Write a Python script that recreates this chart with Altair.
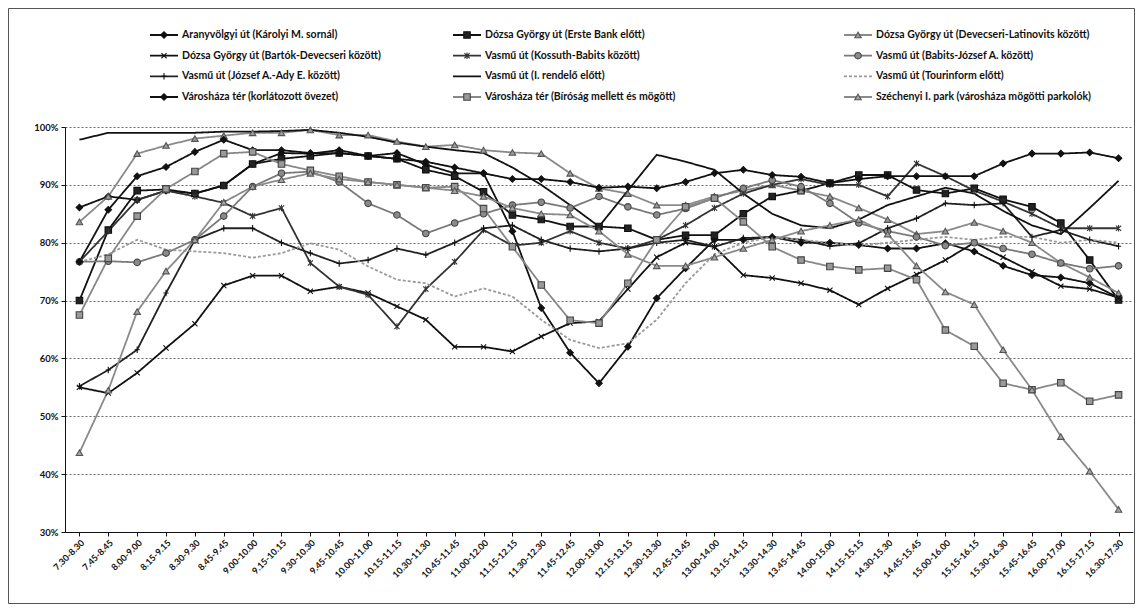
import altair as alt
import pandas as pd

categories = ["7.30-8.30", "7.45-8.45", "8.00-9.00", "8.15-9.15", "8.30-9.30", "8.45-9.45",
              "9.00-10.00", "9.15-10.15", "9.30-10.30", "9.45-10.45", "10.00-11.00", "10.15-11.15",
              "10.30-11.30", "10.45-11.45", "11.00-12.00", "11.15-12.15", "11.30-12.30", "11.45-12.45",
              "12.00-13.00", "12.15-13.15", "12.30-13.30", "12.45-13.45", "13.00-14.00", "13.15-14.15",
              "13.30-14.30", "13.45-14.45", "14.00-15.00", "14.15-15.15", "14.30-15.30", "14.45-15.45",
              "15.00-16.00", "15.15-16.15", "15.30-16.30", "15.45-16.45", "16.00-17.00", "16.15-17.15",
              "16.30-17.30"]

series_names = [
    "Aranyvölgyi út (Károlyi M. sornál)",
    "Dózsa György út (Erste Bank előtt)",
    "Dózsa György út (Devecseri-Latinovits között)",
    "Dózsa György út (Bartók-Devecseri között)",
    "Vasmű út (Kossuth-Babits között)",
    "Vasmű út (Babits-József A. között)",
    "Vasmű út (József A.-Ady E. között)",
    "Vasmű út (I. rendelő előtt)",
    "Vasmű út (Tourinform előtt)",
    "Városháza tér (korlátozott övezet)",
    "Városháza tér (Bíróság mellett és mögött)",
    "Széchenyi I. park (városháza mögötti parkolók)",
]

aranyvolgyi = [86.1, 88.0, 87.4, 89.0, 88.5, 89.9, 93.6, 95.5, 95.4, 96.0, 95.0, 95.5, 93.5, 92.0, 92.0, 82.0,
               68.7, 61.0, 55.7, 62.0, 70.4, 75.6, 80.5, 80.5, 81.0, 80.0, 80.0, 79.6, 79.0, 79.0, 79.9, 78.5,
               76.0, 74.4, 74.0, 73.0, 70.5]
erste_bank = [70.0, 82.2, 89.0, 89.2, 88.5, 89.9, 93.6, 94.5, 95.0, 95.5, 95.0, 94.5, 92.6, 91.5, 88.8, 84.8,
              84.0, 82.8, 82.8, 82.5, 80.5, 81.3, 81.3, 85.0, 88.0, 89.0, 90.3, 91.7, 91.7, 89.1, 88.5, 89.4,
              87.5, 86.2, 83.4, 77.0, 70.1]
devecseri_latinovits = [83.6, 88.0, 95.4, 96.8, 98.0, 98.5, 99.0, 99.0, 99.5, 98.6, 98.6, 97.5, 96.6, 96.9, 96.0,
                        95.6, 95.4, 92.0, 89.4, 88.5, 86.5, 86.5, 88.0, 89.0, 90.0, 89.0, 88.0, 86.0, 84.0, 81.5,
                        82.0, 83.5, 82.0, 80.0, 76.5, 74.0, 71.3]
bartok_devecseri = [55.0, 54.0, 57.5, 61.8, 66.0, 72.6, 74.3, 74.3, 71.6, 72.4, 71.3, 69.0, 66.7, 62.0, 62.0, 61.2,
                    63.8, 66.1, 66.4, 72.0, 77.5, 80.0, 79.3, 74.4, 73.9, 73.0, 71.8, 69.3, 72.1, 74.5, 77.0, 80.0,
                    77.5, 75.0, 72.5, 72.0, 70.5]
kossuth_babits = [76.7, 82.0, 87.4, 89.0, 88.0, 86.9, 84.6, 86.0, 76.5, 72.4, 71.0, 65.5, 72.0, 76.7, 82.2, 79.5,
                  80.0, 82.0, 80.0, 79.0, 80.5, 83.0, 86.0, 88.5, 90.0, 91.0, 90.0, 90.0, 88.0, 93.7, 91.5, 89.0,
                  87.1, 85.0, 82.5, 82.5, 82.5]
babits_jozsef = [76.7, 76.8, 76.6, 78.2, 80.5, 84.6, 89.7, 92.0, 92.3, 90.5, 86.8, 84.8, 81.6, 83.4, 85.0, 86.5,
                 87.0, 86.0, 88.0, 86.2, 84.8, 85.9, 87.7, 89.4, 90.8, 89.7, 86.8, 83.4, 82.0, 81.0, 79.5, 80.0,
                 79.0, 78.0, 76.5, 75.5, 76.0]
jozsef_ady = [55.2, 58.0, 61.5, 71.3, 80.5, 82.5, 82.5, 80.0, 78.2, 76.4, 77.0, 79.0, 77.9, 80.0, 82.5, 83.0,
              80.5, 79.0, 78.5, 79.0, 80.0, 80.5, 79.3, 80.8, 81.0, 80.5, 79.4, 79.9, 82.5, 84.2, 86.8, 86.5,
              86.8, 81.0, 82.2, 80.5, 79.4]
rendelo = [97.8, 99.0, 99.0, 99.0, 99.0, 99.2, 99.2, 99.3, 99.5, 99.0, 98.3, 97.3, 96.6, 96.0, 95.5, 93.0,
           90.0, 86.5, 82.8, 89.0, 95.2, 94.0, 92.6, 88.5, 85.0, 83.0, 82.5, 84.0, 86.5, 88.0, 89.5, 88.5,
           85.5, 83.0, 81.5, 86.0, 90.7]
tourinform = [76.7, 78.0, 80.5, 78.8, 78.5, 78.2, 77.4, 78.2, 79.9, 78.8, 75.9, 73.6, 73.0, 70.7, 72.1, 70.7,
              66.7, 63.2, 61.8, 62.6, 66.7, 73.0, 78.0, 80.0, 81.0, 80.5, 80.0, 79.5, 80.0, 80.5, 81.0, 80.5,
              81.0, 81.0, 80.0, 80.5, 80.0]
korlatozott = [76.7, 85.7, 91.5, 93.1, 95.7, 97.8, 96.0, 96.0, 95.5, 95.5, 95.0, 94.5, 94.0, 93.0, 92.0, 91.0,
               91.0, 90.5, 89.5, 89.7, 89.4, 90.5, 92.0, 92.6, 91.7, 91.4, 90.3, 91.0, 91.5, 91.5, 91.5, 91.5,
               93.7, 95.4, 95.4, 95.6, 94.6]
birosag = [67.5, 77.3, 84.6, 89.3, 92.3, 95.4, 95.7, 93.6, 92.5, 91.5, 90.5, 90.0, 89.5, 89.7, 85.9, 79.3,
           72.7, 66.6, 66.1, 73.0, 80.5, 86.2, 87.7, 83.6, 79.3, 77.0, 75.9, 75.3, 75.6, 73.6, 64.9, 62.1,
           55.7, 54.6, 55.8, 52.6, 53.7]
szechenyi = [43.7, 54.5, 68.1, 75.1, 80.5, 87.0, 89.7, 90.9, 92.0, 91.0, 90.5, 90.0, 89.5, 89.0, 88.0, 86.0,
             85.0, 84.8, 82.0, 78.0, 76.0, 76.0, 77.5, 79.0, 80.5, 82.0, 83.0, 84.0, 81.5, 76.0, 71.5, 69.3,
             61.5, 54.6, 46.5, 40.5, 33.9]

y_ticks = [30, 40, 50, 60, 70, 80, 90, 100]

all_values = [aranyvolgyi, erste_bank, devecseri_latinovits, bartok_devecseri, kossuth_babits, babits_jozsef,
              jozsef_ady, rendelo, tourinform, korlatozott, birosag, szechenyi]

# ---- styles ----
X_PATH = "M-0.8,-0.8L0.8,0.8M-0.8,0.8L0.8,-0.8"
AST_PATH = "M-0.8,-0.8L0.8,0.8M-0.8,0.8L0.8,-0.8M0,-1L0,1"
PLUS_PATH = "M0,-1L0,1M-0.8,0L0.8,0"
line_colors = ["#111", "#111", "#8a8a8a", "#111", "#333", "#7a7a7a", "#222", "#111", "#9a9a9a", "#111", "#888", "#8a8a8a"]
line_widths = [1.8, 1.8, 1.4, 1.6, 1.4, 1.4, 1.2, 1.8, 1.0, 1.8, 1.4, 1.2]
line_dashes = [[1, 0]] * 8 + [[3, 2]] + [[1, 0]] * 3
marker_idx = [0, 1, 2, 3, 4, 5, 6, 9, 10, 11]
marker_shapes = ["diamond", "square", "triangle-up", X_PATH, AST_PATH, "circle", PLUS_PATH, "diamond", "square", "triangle-up"]
marker_fills = ["#111", "#222", "#9a9a9a", "#111", "#333", "#8a8a8a", "#111", "#111", "#999", "#a5a5a5"]
marker_strokes = ["#111", "#111", "#555", "#111", "#333", "#444", "#111", "#111", "#444", "#555"]
marker_series = [series_names[i] for i in marker_idx]

rows = []
for name, vals in zip(series_names, all_values):
    for cat, v in zip(categories, vals):
        rows.append({"series": name, "cat": cat, "v": v})
df = pd.DataFrame(rows)

legend_df = pd.DataFrame({
    "series": series_names,
    "col": [i % 3 for i in range(len(series_names))],
    "row": [i // 3 for i in range(len(series_names))],
})

FONT = "Lato"

color_enc = alt.Color("series:N", scale=alt.Scale(domain=series_names, range=line_colors), legend=None)
dash_enc = alt.StrokeDash("series:N", scale=alt.Scale(domain=series_names, range=line_dashes), legend=None)
width_enc = alt.StrokeWidth("series:N", scale=alt.Scale(domain=series_names, range=line_widths), legend=None)
shape_enc = alt.Shape("series:N", scale=alt.Scale(domain=marker_series, range=marker_shapes), legend=None)
fill_enc = alt.Fill("series:N", scale=alt.Scale(domain=marker_series, range=marker_fills), legend=None)
stroke_enc = alt.Stroke("series:N", scale=alt.Scale(domain=marker_series, range=marker_strokes), legend=None)

x_enc = alt.X("cat:N", sort=categories, scale=alt.Scale(type="point", padding=0.5),
              axis=alt.Axis(title=None, labelAngle=-45, labelFont=FONT, labelFontSize=9,
                            labelFontWeight="bold", labelColor="#111", tickColor="#111", tickSize=4,
                            domainColor="#111", labelPadding=2, grid=False))
y_enc = alt.Y("v:Q", scale=alt.Scale(domain=[30, 100], nice=False),
              axis=alt.Axis(title=None, values=y_ticks, labelExpr="datum.value + '%'", labelFont=FONT,
                            labelFontSize=9.5, labelFontWeight="bold", labelColor="#111", tickSize=4,
                            tickColor="#111", domainColor="#111", gridColor="#444", gridDash=[2, 2],
                            gridWidth=0.8, labelPadding=3))

base = alt.Chart(df)
lines = base.mark_line(strokeJoin="miter").encode(x=x_enc, y=y_enc, color=color_enc,
                                                  strokeDash=dash_enc, strokeWidth=width_enc)
points = base.transform_filter(
    alt.FieldOneOfPredicate(field="series", oneOf=marker_series)
).mark_point(filled=False, size=42, strokeWidth=1.1, opacity=1).encode(
    x=x_enc, y=y_enc, shape=shape_enc, fill=fill_enc, stroke=stroke_enc)
main = alt.layer(lines, points)

lx = alt.X("col:Q", scale=alt.Scale(domain=[0, 1, 2], range=[85, 388, 779]), axis=None)
ly = alt.Y("row:Q", scale=alt.Scale(domain=[0, 3], range=[-92, -30]), axis=None)
lbase = alt.Chart(legend_df)
leg_rule = lbase.mark_rule(x2Offset=28).encode(x=lx, x2="col:Q", y=ly, color=color_enc,
                                               strokeDash=dash_enc, strokeWidth=width_enc)
leg_pts = lbase.transform_filter(
    alt.FieldOneOfPredicate(field="series", oneOf=marker_series)
).mark_point(filled=False, size=42, strokeWidth=1.1, opacity=1, xOffset=14).encode(
    x=lx, y=ly, shape=shape_enc, fill=fill_enc, stroke=stroke_enc)
leg_text = lbase.mark_text(align="left", baseline="middle", dx=32, font=FONT, fontSize=10.5,
                           fontWeight="bold", color="#111").encode(x=lx, y=ly, text="series:N")
legend = alt.layer(leg_rule, leg_pts, leg_text)

frame = alt.Chart(pd.DataFrame({"k": [0]})).mark_rect(fillOpacity=0, stroke="#555", strokeWidth=1).encode(
    x=alt.value(-56.5), x2=alt.value(1069.5), y=alt.value(-118.5), y2=alt.value(476.5))

chart = alt.layer(frame, main, legend).resolve_scale(x="independent", y="independent").properties(
    width=1068, height=405,
    autosize=alt.AutoSizeParams(type="none"),
    padding={"left": 57, "top": 119, "right": 2, "bottom": 72},
    background="white",
).configure_view(strokeWidth=0)

chart.save("out.html", embed_options={"renderer": "svg", "actions": False})
